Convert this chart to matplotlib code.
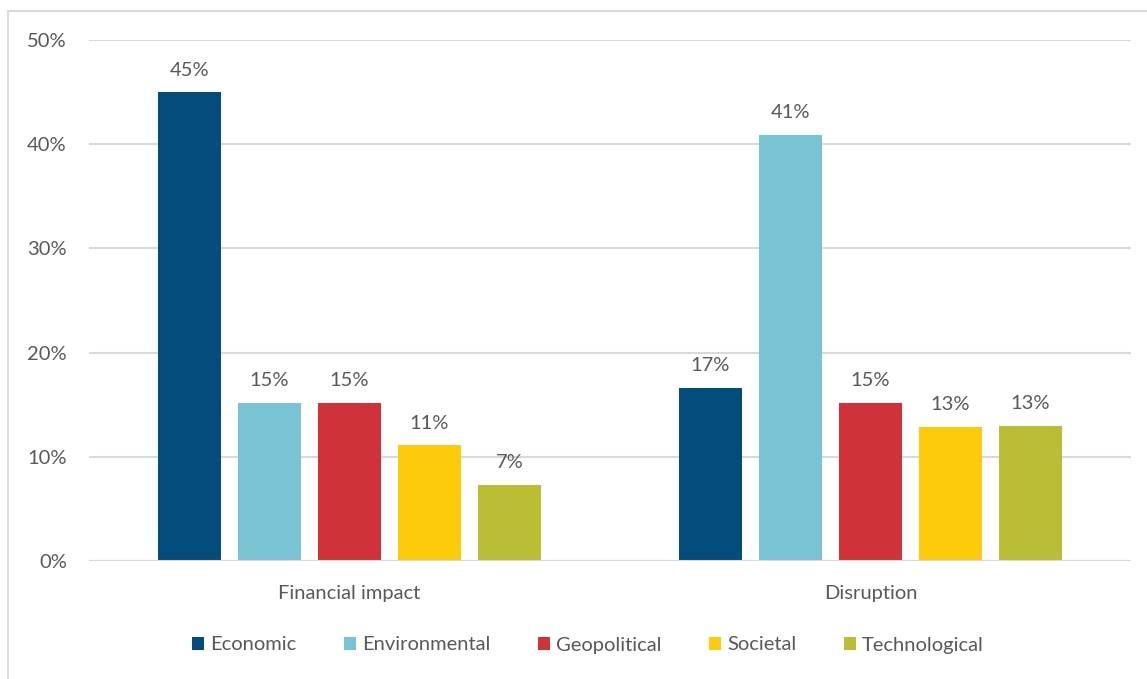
import numpy as np
import matplotlib.pyplot as plt
from matplotlib.patches import Rectangle

plt.rcParams['font.family'] = ['Lato', 'DejaVu Sans']

groups = ['Financial impact', 'Disruption']
series = ['Economic', 'Environmental', 'Geopolitical', 'Societal', 'Technological']
values = {
    'Economic': [45.0, 16.6],
    'Environmental': [15.2, 40.9],
    'Geopolitical': [15.2, 15.2],
    'Societal': [11.1, 12.9],
    'Technological': [7.3, 13.0],
}
labels = {
    'Economic': ['45%', '17%'],
    'Environmental': ['15%', '41%'],
    'Geopolitical': ['15%', '15%'],
    'Societal': ['11%', '13%'],
    'Technological': ['7%', '13%'],
}
colors = ['#034C7B', '#79C4D4', '#D13239', '#FDCB09', '#B9BE34']
text_col = '#595959'
fs = 14.5

W, H = 1147, 679
fig = plt.figure(figsize=(W / 100, H / 100), dpi=100)
ax = fig.add_axes([89 / W, 1 - 561 / H, (1131 - 89) / W, (561 - 40) / H])

# outer chart frame
fig.patches.append(Rectangle((8 / W, -0.01), 1.05, 1 - 11 / H + 0.01,
                             transform=fig.transFigure, fill=False,
                             edgecolor='#D9D9D9', linewidth=1.5))

x = np.arange(len(groups))
step = 80 / 521
width = 63 / 521
for i, (name, c) in enumerate(zip(series, colors)):
    pos = x + (i - 2) * step
    bars = ax.bar(pos, values[name], width, color=c, label=name, zorder=3)
    for b, lab in zip(bars, labels[name]):
        ax.text(b.get_x() + b.get_width() / 2, b.get_height() + 1.3, lab,
                ha='center', va='bottom', fontsize=fs, color=text_col)

ax.set_xlim(-0.5, 1.5)
ax.set_ylim(0, 50)
ax.set_yticks(np.arange(0, 51, 10))
ax.set_yticklabels([f'{v}%' for v in range(0, 51, 10)])
ax.set_xticks(x)
ax.set_xticklabels(groups)
ax.grid(axis='y', color='#D9D9D9', linewidth=1.5, zorder=0)
for s in ax.spines.values():
    s.set_visible(False)
ax.axhline(0, color='#D9D9D9', linewidth=1.5, zorder=4)
ax.tick_params(axis='both', length=0, labelsize=fs, colors=text_col)
ax.tick_params(axis='y', pad=16)
ax.tick_params(axis='x', pad=17)

fig.legend(loc='center', bbox_to_anchor=(588 / W, 1 - 645 / H), ncol=5,
           frameon=False, fontsize=fs, handlelength=0.6, handleheight=0.6,
           handletextpad=0.3, columnspacing=2.35, labelcolor=text_col)

fig.savefig('out.png', dpi=100)
